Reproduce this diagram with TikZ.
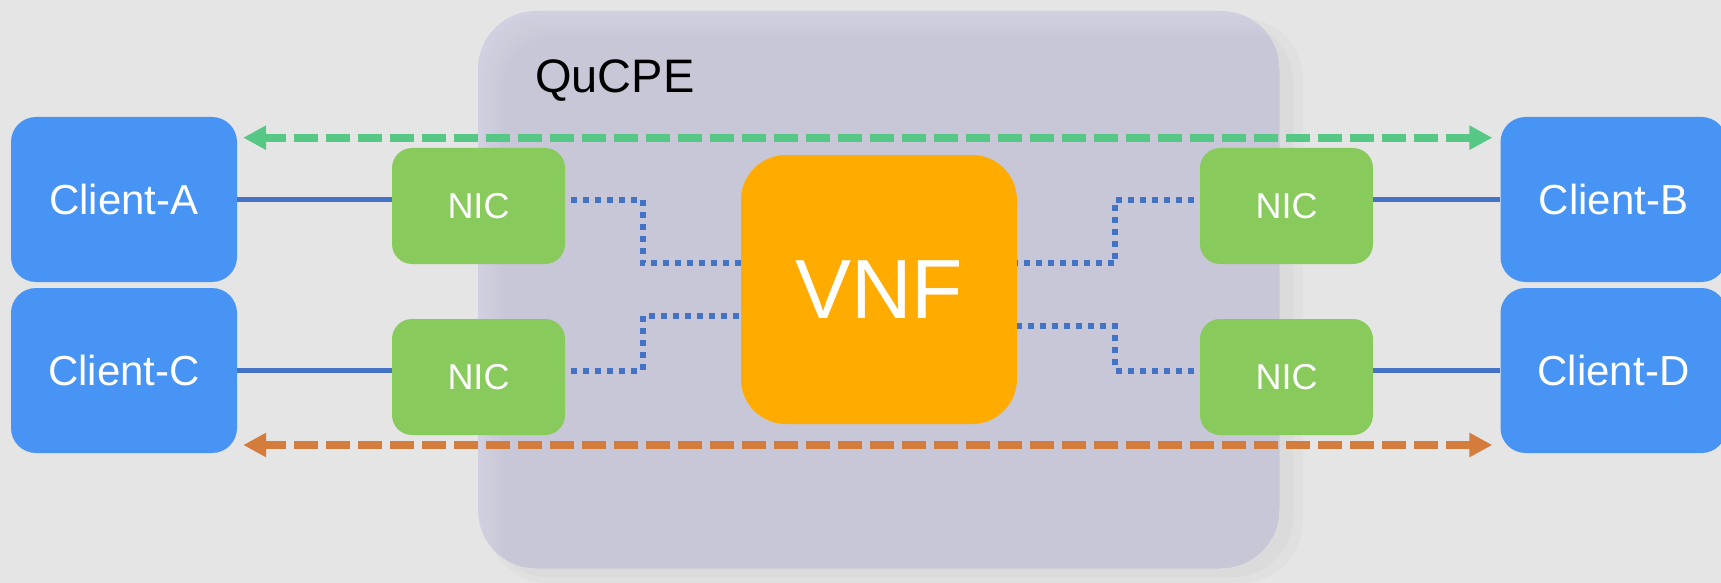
\documentclass[tikz,border=0pt]{standalone}
\usepackage{fontspec}
\setmainfont{Liberation Sans}
\usetikzlibrary{arrows.meta}
\definecolor{bg}{HTML}{E5E5E5}
\definecolor{boxlight}{HTML}{D0D0E0}
\definecolor{boxdark}{HTML}{C7C7D7}
\definecolor{shadowa}{HTML}{E0E0E0}
\definecolor{shadowb}{HTML}{DBDBDB}
\definecolor{clientblue}{HTML}{4794F4}
\definecolor{nicgreen}{HTML}{88CB5C}
\definecolor{vnforange}{HTML}{FFAB00}
\definecolor{linkblue}{HTML}{4472C4}
\definecolor{arrgreen}{HTML}{57C785}
\definecolor{arrorange}{HTML}{D47C3C}
\begin{document}
\begin{tikzpicture}[x=1pt,y=-1pt,
  client/.style={fill=clientblue, rounded corners=25pt, minimum width=226pt, minimum height=165pt, inner sep=0pt, text=white, font=\fontsize{42}{50}\selectfont},
  nic/.style={fill=nicgreen, rounded corners=20pt, minimum width=173pt, minimum height=116pt, inner sep=0pt, text=white, font=\fontsize{36}{43}\selectfont},
  vnfbox/.style={fill=vnforange, rounded corners=45pt, minimum width=276pt, minimum height=269pt, inner sep=0pt, text=white, font=\fontsize{84}{100}\selectfont},
  link/.style={draw=linkblue, line width=5.3pt},
  dotlink/.style={draw=linkblue, line width=6pt, dash pattern=on 6pt off 6pt, dash phase=6pt},
  flow/.style={line width=8pt, dash pattern=on 24pt off 8pt, dash phase=3pt, {Triangle[length=23pt,width=23pt]}-{Triangle[length=23pt,width=23pt]}, shorten <=6pt, shorten >=8pt}
]
\useasboundingbox (0,0) rectangle (1721,583);
\fill[bg] (0,0) rectangle (1721,583);
% shadow of the QuCPE box
\fill[shadowa, rounded corners=62pt] (486,18) rectangle (1303,583);
\fill[shadowb, rounded corners=60pt] (488,22) rectangle (1293,577);
% QuCPE box
\fill[boxlight, rounded corners=58pt] (478,11) rectangle (1279,568);
\begin{scope}
  \clip[rounded corners=58pt] (478,11) rectangle (1279,568);
  \foreach \s/\m in {5/20,10/40,15/60,20/80,24/100}{
    \fill[boxdark!\m!boxlight, rounded corners=56pt] (478+\s,11+\s) rectangle (1330,620);
  }
\end{scope}
\node[anchor=base west, inner sep=0pt, font=\fontsize{47}{56}\selectfont] (qucpe) at (535,93) {QuCPE};

% clients
\node[client] (cA) at (124,199.5) {Client-A};
\node[client] (cC) at (124,370.5) {Client-C};
\node[client] (cB) at (1613.5,199.5) {Client-B};
\node[client] (cD) at (1613.5,370.5) {Client-D};

% NICs
\node[nic] (nUL) at (478.5,206) {NIC};
\node[nic] (nLL) at (478.5,377) {NIC};
\node[nic] (nUR) at (1286.5,206) {NIC};
\node[nic] (nLR) at (1286.5,377) {NIC};

% VNF
\node[vnfbox] (vnf) at (879,289.5) {VNF};

% solid links
\draw[link] (cA.east) -- (cA.east -| nUL.west);
\draw[link] (cC.east) -- (cC.east -| nLL.west);
\draw[link] (cB.west) -- (cB.west -| nUR.east);
\draw[link] (cD.west) -- (cD.west -| nLR.east);

% dotted internal links
\draw[dotlink] (cA.east -| nUL.east) -| (642.7,263.3) -- (vnf.west |- 0,263.3);
\draw[dotlink] (cC.east -| nLL.east) -| (642.7,316) -- (vnf.west |- 0,316);
\draw[dotlink] (cB.west -| nUR.west) -| (1115,263.3) -- (vnf.east |- 0,263.3);
\draw[dotlink] (cD.west -| nLR.west) -| (1115,326) -- (vnf.east |- 0,326);

% flows
\draw[flow, draw=arrgreen] (cA.east |- 0,137.7) -- (cB.west |- 0,137.7);
\draw[flow, draw=arrorange] (cC.east |- 0,445) -- (cD.west |- 0,445);
\end{tikzpicture}
\end{document}
